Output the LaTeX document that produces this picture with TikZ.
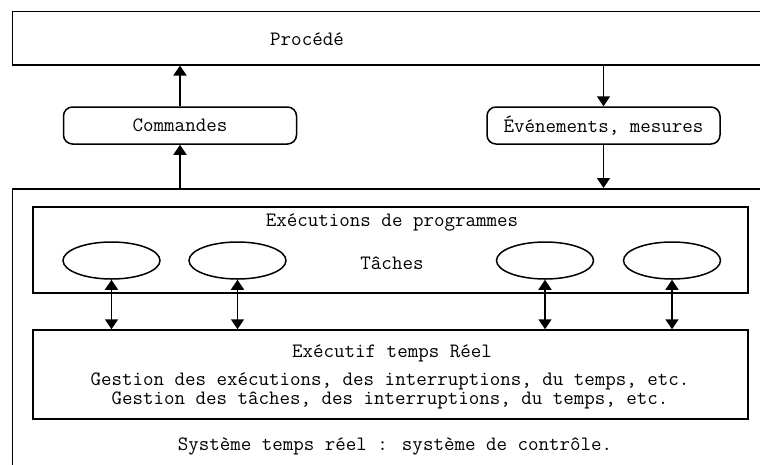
\documentclass[tikz,border=0pt]{standalone}
\usepackage{fontspec}
\usepackage{tikz}
\usetikzlibrary{arrows.meta, shapes.geometric, positioning}

\begin{document}
\begin{tikzpicture}[
    x=1pt, y=-1pt,
    font=\ttfamily\fontsize{20.4}{19.5}\selectfont,
    line width=1.5pt,
    box/.style={draw, rectangle, inner sep=0pt},
    rbox/.style={draw, rounded corners=9pt, minimum width=233pt, minimum height=37pt, inner sep=0pt},
    tache/.style={draw, ellipse, minimum width=97pt, minimum height=37pt, inner sep=0pt},
    ar/.style={-{Triangle[width=13pt,length=10pt]}},
    dar/.style={{Triangle[width=13pt,length=10pt]}-{Triangle[width=13pt,length=10pt]}}
]
\clip (0,0) rectangle (760,464);
% process and flows between it and the system
\node[box, anchor=north west, minimum width=790pt, minimum height=53.5pt] (proc) at (11.5,10.5) {};
\node (procTxt) at (307,39) {Procédé};
\node[rbox] (cmd) at (180,125.5) {Commandes};
\node[rbox] (evt) at (603.5,125.5) {Événements, mesures};
% outer system box
\node[box, anchor=north west, minimum width=790pt, minimum height=320pt] (sys) at (11.5,188) {};
\draw[ar] (cmd.north) -- (cmd.north |- proc.south);
\draw[ar] (cmd.south |- sys.north) -- (cmd.south);
\draw[ar] (evt.north |- proc.south) -- (evt.north);
\draw[ar] (evt.south) -- (evt.south |- sys.north);
% program executions with the tasks
\node[box, minimum width=715pt, minimum height=86pt] (exe) at (390.5,250) {};
\node (exeTxt) at (392,222) {Exécutions de programmes};
\node (tachTxt) at (392,263) {Tâches};
\foreach \n/\x in {t1/111.5, t2/237.5, t3/545, t4/672}
   \node[tache] (\n) at (\x,260.5) {};
% real-time executive
\node[box, minimum width=715pt, minimum height=89pt] (rt) at (390.5,374.5) {};
\node[inner sep=1pt] (rtTxt) at (392,353) {Exécutif temps Réel};
\node[align=center, inner sep=0pt] (gest) at (390,391) {Gestion des exécutions, des interruptions, du temps, etc.\\
Gestion des tâches, des interruptions, du temps, etc.};
\foreach \n in {t1, t2, t3, t4}
   \draw[dar] (\n.south) -- (\n.south |- rt.north);
\node (sysTxt) at (395,446) {Système temps réel : système de contrôle.};
\end{tikzpicture}
\end{document}
